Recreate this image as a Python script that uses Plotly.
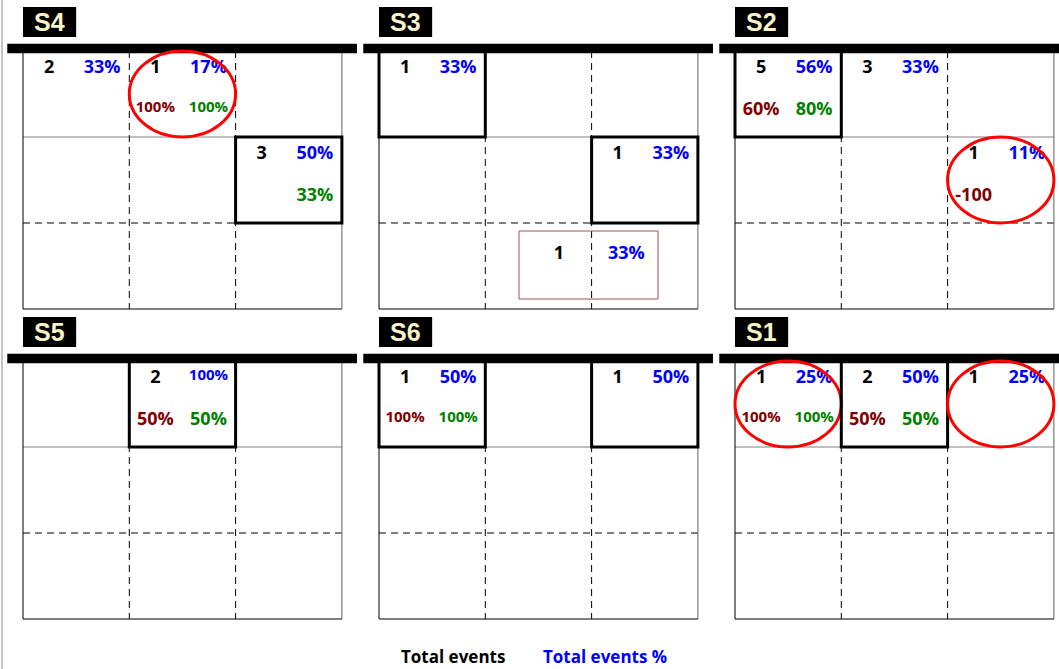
import plotly.graph_objects as go

W, H = 1059, 669

# ---------------- data ----------------
panel_names = ["S4", "S3", "S2", "S5", "S6", "S1"]
panel_slot_row = [0, 0, 0, 1, 1, 1]
panel_slot_col = [0, 1, 2, 0, 1, 2]

cell_panel = ["S4", "S4", "S4", "S3", "S3", "S2", "S2", "S2", "S5", "S6", "S6", "S1", "S1", "S1"]
cell_row = [0, 0, 1, 0, 1, 0, 0, 1, 0, 0, 0, 0, 0, 0]
cell_col = [0, 1, 2, 0, 2, 0, 1, 2, 1, 0, 2, 0, 1, 2]
total_events = [2, 1, 3, 1, 1, 5, 3, 1, 2, 1, 1, 1, 2, 1]
total_events_pct = ["33%", "17%", "50%", "33%", "33%", "56%", "33%", "11%", "100%",
                    "50%", "50%", "25%", "50%", "25%"]
red_labels = ["", "100%", "", "", "", "60%", "", "-100", "50%", "100%", "", "100%", "50%", ""]
green_labels = ["", "100%", "33%", "", "", "80%", "", "", "50%", "100%", "", "100%", "50%", ""]
cell_boxed = [False, False, True, True, True, True, False, False, True, True, True, False, True, False]
cell_circled = [False, True, False, False, False, False, False, True, False, False, False, True, False, True]

# floating (unaligned) cell in S3
extra_panel = "S3"
extra_events = 1
extra_pct = "33%"

legend_labels = ["Total events", "Total events %"]

# ---------------- styling / layout constants ----------------
FONT = "Open Sans, Noto Sans, sans-serif"
C_BLACK = "#000000"
C_BLUE = "#0000FF"
C_RED = "#800000"
C_GREEN = "#008000"
BIG, SMALL = 18, 15

grid_left_px = [23, 379, 735]
grid_top_px = [51, 361]
CW, CH = 106.3, 86.0

# floating cell geometry (grid units)
EX0, EX1, EY0, EY1 = 1.317, 2.625, 2.093, 2.884

fig = go.Figure()
shapes = []
annotations = []


def size_for(t):
    return SMALL if (len(t) >= 4 and t.endswith("%")) else BIG


for k, name in enumerate(panel_names, start=1):
    r, c = panel_slot_row[k - 1], panel_slot_col[k - 1]
    L, T = grid_left_px[c], grid_top_px[r]
    dx0 = max(0.0, L - 17)
    dx1 = min(float(W), L + 3 * CW + 17)
    dy0 = T - 46
    dy1 = T + 3 * CH + 3
    xr = [(dx0 - L) / CW, (dx1 - L) / CW]
    yr = [(dy1 - T) / CH, (dy0 - T) / CH]
    xa = "xaxis" if k == 1 else f"xaxis{k}"
    ya = "yaxis" if k == 1 else f"yaxis{k}"
    xref = "x" if k == 1 else f"x{k}"
    yref = "y" if k == 1 else f"y{k}"
    fig.layout[xa] = dict(domain=[dx0 / W, dx1 / W], range=xr, visible=False,
                          fixedrange=True, anchor=yref)
    fig.layout[ya] = dict(domain=[1 - dy1 / H, 1 - dy0 / H], range=yr, visible=False,
                          fixedrange=True, anchor=xref)

    def line(x0, y0, x1, y1, color, width, dash="solid"):
        shapes.append(dict(type="line", xref=xref, yref=yref, x0=x0, y0=y0, x1=x1, y1=y1,
                           line=dict(color=color, width=width, dash=dash), layer="above"))

    # grid
    line(0, 1, 3, 1, "#808080", 1)
    line(0, 2, 3, 2, "#000000", 1, "7px,5px")
    line(1, 0, 1, 3, "#000000", 1, "7px,5px")
    line(2, 0, 2, 3, "#000000", 1, "7px,5px")
    line(0, 0, 0, 3, "#000000", 1)
    line(3, 0, 3, 3, "#606060", 1)
    line(0, 3, 3, 3, "#000000", 1)
    # header bar
    shapes.append(dict(type="rect", xref=xref, yref=yref, x0=-0.148, x1=3.142,
                       y0=-0.083, y1=0.025, fillcolor="#000000", line=dict(width=0), layer="above"))
    # title box
    shapes.append(dict(type="rect", xref=xref, yref=yref, x0=0, x1=0.5,
                       y0=-0.512, y1=-0.163, fillcolor="#000000", line=dict(width=0), layer="above"))
    annotations.append(dict(xref=xref, yref=yref, x=0.25, y=-0.335, text=name, showarrow=False,
                            font=dict(family="Liberation Sans, Arial, sans-serif", size=25,
                                      color="#F8F4C8", weight="bold"),
                            xanchor="center", yanchor="middle"))

    xs, ys, ts, cs, ss = [], [], [], [], []
    for i, p in enumerate(cell_panel):
        if p != name:
            continue
        rr, cc = cell_row[i], cell_col[i]
        top_items = [(str(total_events[i]), 0.245, C_BLACK), (total_events_pct[i], 0.745, C_BLUE)]
        bot_items = [(red_labels[i], 0.245, C_RED), (green_labels[i], 0.745, C_GREEN)]
        for t, fx, col in top_items:
            if t:
                s = size_for(t)
                xs.append(cc + fx); ys.append(rr + (0.205 if s == BIG else 0.18))
                ts.append(t); cs.append(col); ss.append(s)
        for t, fx, col in bot_items:
            if t:
                s = size_for(t)
                xs.append(cc + fx); ys.append(rr + (0.695 if s == BIG else 0.665))
                ts.append(t); cs.append(col); ss.append(s)
        if cell_boxed[i]:
            shapes.append(dict(type="rect", xref=xref, yref=yref, x0=cc, x1=cc + 1, y0=rr, y1=rr + 1,
                               line=dict(color="#000000", width=3), layer="above"))
        if cell_circled[i]:
            shapes.append(dict(type="circle", xref=xref, yref=yref, x0=cc, x1=cc + 1, y0=rr, y1=rr + 1,
                               line=dict(color="#FF0000", width=3), layer="above"))
    if name == extra_panel:
        shapes.append(dict(type="rect", xref=xref, yref=yref, x0=EX0, x1=EX1, y0=EY0, y1=EY1,
                           line=dict(color="#A05050", width=1), layer="above"))
        ey = EY0 + 0.27
        xs += [EX0 + 0.375, EX0 + 1.01]
        ys += [ey, ey]
        ts += [str(extra_events), extra_pct]
        cs += [C_BLACK, C_BLUE]
        ss += [BIG, BIG]

    fig.add_trace(go.Scatter(x=xs, y=ys, text=ts, mode="text", xaxis=xref, yaxis=yref,
                             textposition="middle center", cliponaxis=False, hoverinfo="skip",
                             textfont=dict(family=FONT, size=ss, color=cs, weight="bold"),
                             showlegend=False))

# legend labels
annotations.append(dict(xref="paper", yref="paper", x=453 / W, y=1 - 656 / H, text=legend_labels[0],
                        showarrow=False, xanchor="center", yanchor="middle",
                        font=dict(family=FONT, size=17, color=C_BLACK, weight="bold")))
annotations.append(dict(xref="paper", yref="paper", x=605 / W, y=1 - 656 / H, text=legend_labels[1],
                        showarrow=False, xanchor="center", yanchor="middle",
                        font=dict(family=FONT, size=17, color=C_BLUE, weight="bold")))

# page left border
shapes.append(dict(type="line", xref="paper", yref="paper", x0=2 / W, x1=2 / W, y0=0, y1=1,
                   line=dict(color="#8a8a8a", width=1)))

fig.update_layout(width=W, height=H, margin=dict(l=0, r=0, t=0, b=0),
                  paper_bgcolor="white", plot_bgcolor="white",
                  shapes=shapes, annotations=annotations, showlegend=False)

fig.write_html("out.html", config={"displayModeBar": False},
               post_script="document.body.style.margin='0';document.body.style.overflow='hidden';")
